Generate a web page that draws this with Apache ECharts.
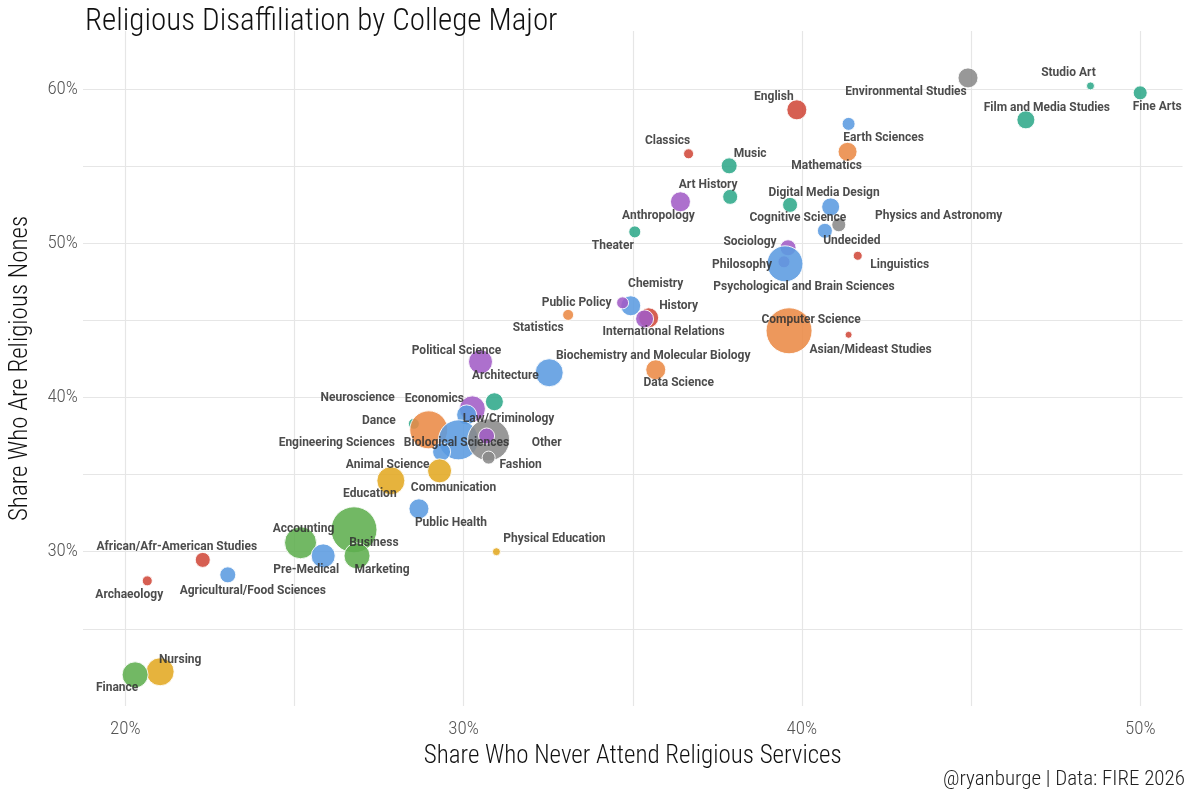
<!DOCTYPE html>
<html>
<head>
<meta charset="utf-8">
<script src="https://cdn.jsdelivr.net/npm/echarts@6/dist/echarts.min.js"></script>
<style>html,body{margin:0;background:#fff}#chart{width:1200px;height:800px}</style>
</head>
<body>
<div id="chart"></div>
<script>
// data
let majors = ['Studio Art','Fine Arts','Environmental Studies','Film and Media Studies','English','Earth Sciences','Mathematics','Classics','Music','Art History','Anthropology','Digital Media Design','Physics and Astronomy','Cognitive Science','Undecided','Theater','Sociology','Philosophy','Psychological and Brain Sciences','Linguistics','Chemistry','Public Policy','History','International Relations','Statistics','Computer Science','Asian/Mideast Studies','Political Science','Biochemistry and Molecular Biology','Data Science','Architecture','Economics','Neuroscience','Dance','Engineering Sciences','Biological Sciences','Other','Law/Criminology','Fashion','Animal Science','Communication','Education','Public Health','Accounting','Business','Marketing','Pre-Medical','Physical Education','African/Afr-American Studies','Archaeology','Agricultural/Food Sciences','Nursing','Finance'];
let neverAttend = [48.53,50.0,44.91,46.62,39.85,41.38,41.35,36.65,37.85,37.88,36.41,39.65,40.85,40.68,41.09,35.06,39.59,39.47,39.5,41.65,34.94,34.7,35.47,35.35,33.09,39.62,41.38,30.5,32.53,35.68,30.91,30.26,30.09,28.53,28.97,29.85,30.74,30.68,30.74,29.35,29.29,27.85,28.68,25.18,26.76,26.85,25.85,30.97,22.29,20.65,23.03,21.03,20.29];
let nones = [60.19,59.74,60.71,57.99,58.64,57.73,55.92,55.79,55.01,53.0,52.68,52.48,52.35,50.8,51.19,50.73,49.7,48.79,48.66,49.18,45.94,46.13,45.16,45.09,45.35,44.32,44.06,42.31,41.6,41.79,39.72,39.26,38.87,38.29,37.9,37.25,37.25,37.5,36.1,36.47,35.24,34.6,32.78,30.58,31.42,29.73,29.73,30.0,29.47,28.11,28.5,22.22,22.02];
let sizes = [8,14,20,18,20,13,19,10,16,15,20,15,18,15,14,12,16,12,36,9,20,12,20,18,11,46,7,24,28,20,18,26,20,11,38,40,42,16,13,18,24,28,20,32,46,26,24,8,15,10,16,28,26];
let groups = ['t','t','g','t','r','b','o','r','t','t','p','t','b','b','g','t','p','p','b','r','b','p','r','p','o','o','r','p','b','o','t','p','b','t','o','b','g','p','g','b','y','y','b','n','n','n','b','y','r','r','b','y','n'];
let labelOffsets = [[-22,-13],[17,14],[-62,14],[21,-12],[-23,-13],[35,14],[-21,14],[-21,-13],[21,-12],[-22,-12],[-22,14],[34,-12],[108,9],[-27,-13],[13,16],[-22,14],[-38,-6],[-42,3],[19,23],[42,9],[25,-22],[-46,0],[30,-12],[19,13],[-30,13],[22,-11],[22,15],[-24,-11],[104,-17],[23,13],[11,-26],[-38,-10],[-109,-17],[-35,-3],[-92,13],[-2,3],[58,3],[22,-17],[32,7],[-54,13],[14,17],[-21,13],[32,14],[3,-14],[20,13],[25,14],[-17,14],[58,-13],[-26,-13],[-18,14],[25,16],[20,-12],[-18,13]];
let xTicks = [20,30,40,50];
let yTicks = [30,40,50,60];
let gridX = [20,25,30,35,40,45,50];
let gridY = [25,30,35,40,45,50,55,60];

let palette = {r:'#d0493a',b:'#5b9be0',t:'#2fa88a',o:'#ea8a45',p:'#a25cc6',g:'#8a8a8a',y:'#e3a922',n:'#5fae4e'};
let font = 'Roboto Condensed, DejaVu Sans Condensed, Roboto, sans-serif';

let points = majors.map((m,i)=>({
    name:m,
    value:[neverAttend[i],nones[i]],
    symbolSize:sizes[i],
    itemStyle:{color:palette[groups[i]]},
    label:{offset:labelOffsets[i]}
}));

let myChart = echarts.init(document.getElementById('chart'));
let option = {
    backgroundColor:'#fff',
    animation:false,
    title:[{
        text:'Religious Disaffiliation by College Major',
        left:80, top:2,
        textStyle:{fontFamily:font, fontWeight:300, fontSize:31, color:'#111'}
    },{
        text:'@ryanburge | Data: FIRE 2026',
        right:10, bottom:5,
        textStyle:{fontFamily:font, fontWeight:300, fontSize:21, color:'#222'}
    }],
    grid:{left:77.5, right:17.5, top:31, bottom:94},
    xAxis:{
        type:'value', min:18.75, max:51.25, interval:1.25,
        name:'Share Who Never Attend Religious Services', nameLocation:'middle', nameGap:36,
        nameTextStyle:{fontFamily:font, fontWeight:300, fontSize:25, color:'#111'},
        axisLine:{show:false}, axisTick:{show:false}, splitLine:{show:false},
        axisLabel:{fontFamily:font, fontWeight:300, fontSize:19, color:'#555', margin:14,
            formatter:(v)=>xTicks.some(t=>Math.abs(t-v)<1e-6)?Math.round(v)+'%':''}
    },
    yAxis:{
        type:'value', min:20, max:63.75, interval:1.25,
        name:'Share Who Are Religious Nones', nameLocation:'middle', nameGap:50,
        nameTextStyle:{fontFamily:font, fontWeight:300, fontSize:25, color:'#111'},
        axisLine:{show:false}, axisTick:{show:false}, splitLine:{show:false},
        axisLabel:{fontFamily:font, fontWeight:300, fontSize:19, color:'#555', margin:5,
            formatter:(v)=>yTicks.some(t=>Math.abs(t-v)<1e-6)?Math.round(v)+'%':''}
    },
    series:[{
        type:'scatter',
        data:points,
        itemStyle:{opacity:0.88, borderColor:'#fff', borderWidth:1},
        label:{show:true, position:'inside', formatter:'{b}',
            fontFamily:'Roboto, sans-serif', fontWeight:'bold', fontSize:12, color:'#333'},
        markLine:{
            silent:true, symbol:'none', label:{show:false}, z:-1,
            lineStyle:{color:'#e6e6e6', width:1.2, type:'solid'},
            data:gridX.map(v=>({xAxis:v})).concat(gridY.map(v=>({yAxis:v})))
        }
    }]
};
myChart.setOption(option);
</script>
</body>
</html>
